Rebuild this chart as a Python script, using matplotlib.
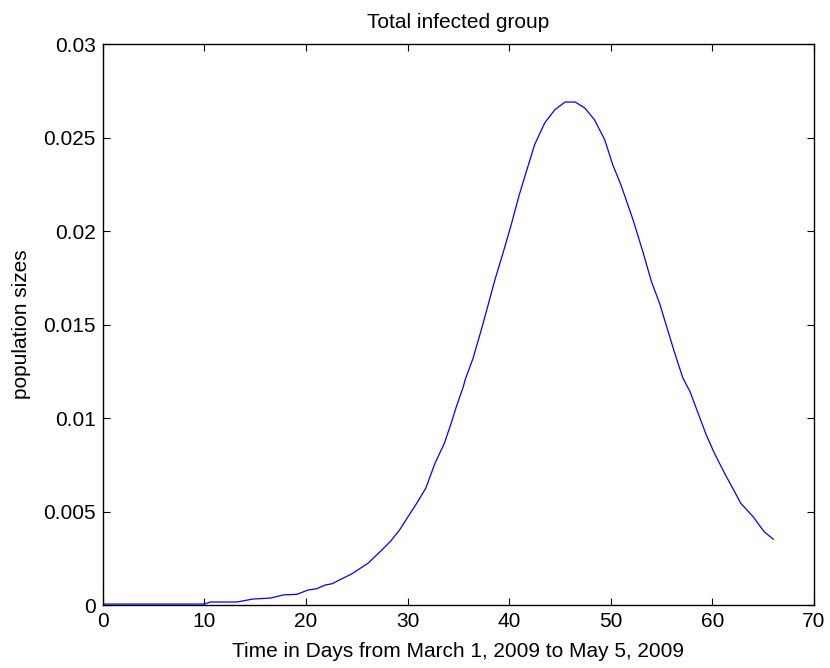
import matplotlib
matplotlib.use("Agg")
import matplotlib.pyplot as plt

days = [0, 10, 10.6, 13.2, 14.8, 16.5, 17.8, 19.1, 20.2, 21.05, 21.9, 22.6, 23.3,
        24.5, 26.1, 27.3, 28.3, 29.2, 30.06, 30.9, 31.8, 32.7, 33.6, 34.3, 34.8,
        35.5, 35.7, 36.45, 37.3, 37.8, 38.6, 39.4, 40.2, 41.0, 41.7, 42.5, 43.5,
        44.5, 45.5, 46.5, 47.45, 48.4, 49.4, 50.2, 51.0, 52.2, 53.2, 54.0, 54.8,
        55.5, 56.3, 57.1, 57.8, 58.6, 59.4, 60.2, 61.2, 62.0, 62.8, 64.0, 65.1, 66.0]
infected = [0.00005, 0.00005, 0.00016, 0.00016, 0.00032, 0.00037, 0.00054, 0.00057,
            0.0008, 0.00087, 0.00107, 0.00114, 0.00134, 0.00166, 0.00223, 0.00285,
            0.00339, 0.0040, 0.00473, 0.00544, 0.00625, 0.00758, 0.00862, 0.00973,
            0.0106, 0.0117, 0.0121, 0.0132, 0.0148, 0.01579, 0.0174, 0.01883, 0.02034,
            0.02195, 0.0232, 0.02462, 0.02579, 0.0265, 0.02691, 0.02691, 0.02659,
            0.02596, 0.0249, 0.02355, 0.02248, 0.0206, 0.01883, 0.01731, 0.01615,
            0.0149, 0.01347, 0.01214, 0.01142, 0.01026, 0.0091, 0.00812, 0.00705,
            0.00625, 0.00544, 0.00473, 0.00392, 0.00352]

xticks = [0, 10, 20, 30, 40, 50, 60, 70]
yticks = [0, 0.005, 0.01, 0.015, 0.02, 0.025, 0.03]
ytick_labels = ["0", "0.005", "0.01", "0.015", "0.02", "0.025", "0.03"]

plt.rcParams['font.family'] = ['Liberation Sans', 'DejaVu Sans']

fig = plt.figure(figsize=(8.30, 6.68), dpi=100)
ax = fig.add_axes([0.1237, 0.0943, 0.8570, 0.8394])
ax.plot(days, infected, color='#0000ff', linewidth=0.9)
ax.set_xlim(0, 70)
ax.set_ylim(0, 0.03)
ax.set_xticks(xticks)
ax.set_xticklabels([str(t) for t in xticks])
ax.set_yticks(yticks)
ax.set_yticklabels(ytick_labels)
ax.tick_params(direction='in', length=5, width=0.8, top=True, right=True,
               labelsize=15, pad=5, colors='black')
for s in ax.spines.values():
    s.set_linewidth(1.0)
ax.set_title("Total infected group", fontsize=15, pad=11.5)
ax.set_xlabel("Time in Days from March 1, 2009 to May 5, 2009", fontsize=15, labelpad=8)
ax.set_ylabel("population sizes", fontsize=15, labelpad=9)
fig.savefig("out.png", dpi=100)
